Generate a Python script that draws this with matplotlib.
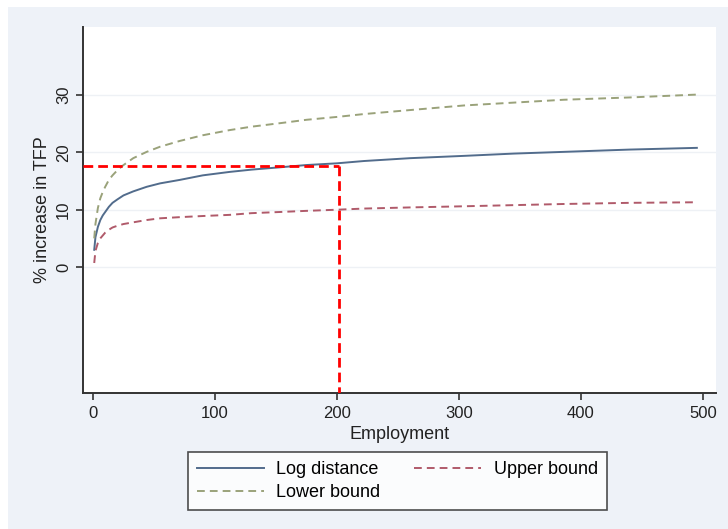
import matplotlib
matplotlib.use("Agg")
import matplotlib.pyplot as plt
from matplotlib.patches import Rectangle

plt.rcParams["font.family"] = ["Liberation Sans", "DejaVu Sans"]

# values
employment = [1, 2, 4, 6, 8, 10, 13, 16, 20, 25, 33, 44, 55, 71, 90, 112, 130, 153, 175,
              200, 222, 260, 304, 345, 386, 440, 495]
log_distance = [3.0, 5.2, 7.0, 8.2, 9.0, 9.6, 10.5, 11.2, 11.8, 12.5, 13.2, 14.0, 14.6, 15.2,
                16.0, 16.6, 17.0, 17.4, 17.8, 18.1, 18.5, 19.0, 19.4, 19.8, 20.1, 20.5, 20.8]
lower_bound = [5.0, 7.5, 10.3, 12.0, 13.1, 14.0, 15.2, 16.0, 16.9, 17.8, 19.0, 20.1, 21.0,
               22.0, 23.0, 23.9, 24.5, 25.1, 25.7, 26.2, 26.7, 27.4, 28.2, 28.7, 29.2, 29.6, 30.1]
upper_bound = [0.7, 2.8, 4.2, 5.0, 5.5, 6.0, 6.5, 6.9, 7.2, 7.5, 7.8, 8.2, 8.5, 8.7, 8.9,
               9.1, 9.4, 9.6, 9.8, 10.0, 10.2, 10.4, 10.6, 10.8, 11.0, 11.2, 11.3]

ref_x = 202
ref_y = 17.6

x_ticks = [0, 100, 200, 300, 400, 500]
y_ticks = [0, 10, 20, 30]

BG = "#eef2f8"

fig = plt.figure(figsize=(7.28, 5.29), dpi=100)
fig.patch.set_facecolor("white")
# graph region (stata style)
fig.patches.append(Rectangle((8 / 728, 0), 1, 1 - 7 / 529, transform=fig.transFigure,
                             facecolor=BG, edgecolor="none", zorder=-10))

ax = fig.add_axes([83 / 728, 1 - 393 / 529, (716 - 83) / 728, (393 - 27) / 529])
ax.set_facecolor("white")
ax.set_xlim(-8.2, 510.7)
ax.set_ylim(-22.0, 41.9)

for t in y_ticks:
    ax.axhline(t, color="#eef1f5", lw=1.0, zorder=0)

l1, = ax.plot(employment, log_distance, color="#526c8c", lw=1.4, label="Log distance")
l2, = ax.plot(employment, lower_bound, color="#9aa27a", lw=1.4, dashes=(4, 2.6),
              label="Lower bound")
l3, = ax.plot(employment, upper_bound, color="#b05a6a", lw=1.4, dashes=(4, 2.6),
              label="Upper bound")

# reference lines
ax.plot([ax.get_xlim()[0], ref_x], [ref_y, ref_y], color="#ff0000", lw=2.0,
        dashes=(3.5, 1.8), zorder=5)
ax.plot([ref_x, ref_x], [ref_y, ax.get_ylim()[0]], color="#ff0000", lw=2.0,
        dashes=(3.5, 1.8), zorder=5)

for s in ["top", "right"]:
    ax.spines[s].set_visible(False)
for s in ["left", "bottom"]:
    ax.spines[s].set_color("#333333")
    ax.spines[s].set_linewidth(1.4)

ax.set_xticks(x_ticks)
ax.set_yticks(y_ticks)
ax.tick_params(axis="both", direction="out", length=5, width=1.2, color="#333333",
               labelsize=12, labelcolor="#222222")
ax.tick_params(axis="x", pad=4)
for lab in ax.get_yticklabels():
    lab.set_rotation(90)
    lab.set_va("center")

ax.set_xlabel("Employment", fontsize=13, color="#222222", labelpad=4)
ax.set_ylabel("% increase in TFP", fontsize=13, color="#222222", labelpad=4)

leg = fig.legend(handles=[l1, l2, l3], ncol=2, loc="upper left",
                 bbox_to_anchor=(188 / 728, 1 - 510 / 529, (607 - 188) / 728, (510 - 452) / 529),
                 mode="expand", frameon=True, fancybox=False, fontsize=13,
                 handlelength=3.7, handletextpad=0.7, columnspacing=1.7,
                 borderpad=0.5, labelspacing=0.35, borderaxespad=0)
leg.get_frame().set_edgecolor("#222222")
leg.get_frame().set_linewidth(1.2)
leg.get_frame().set_facecolor("white")

fig.savefig("out.png", dpi=100, facecolor=fig.get_facecolor())
